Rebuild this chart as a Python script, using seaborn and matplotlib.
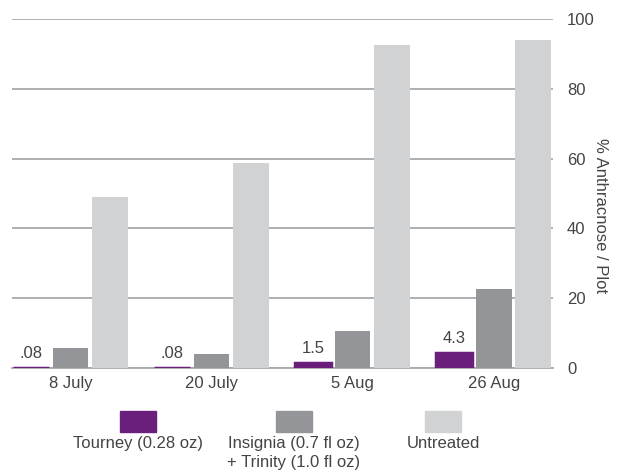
import matplotlib
matplotlib.use("Agg")
import matplotlib.pyplot as plt
from matplotlib.patches import Rectangle
import seaborn as sns
import pandas as pd

# data
dates = ["8 July", "20 July", "5 Aug", "26 Aug"]
tourney = [0.08, 0.08, 1.5, 4.3]
insignia = [5.7, 4.1, 10.7, 22.6]
untreated = [49.0, 58.7, 92.5, 94.0]
value_labels = [".08", ".08", "1.5", "4.3"]

treatments = ["Tourney (0.28 oz)", "Insignia (0.7 fl oz)\n+ Trinity (1.0 fl oz)", "Untreated"]
colors = ["#6b1f7c", "#939598", "#d1d2d4"]

df = pd.DataFrame({
    "date": dates * 3,
    "treatment": [treatments[0]] * 4 + [treatments[1]] * 4 + [treatments[2]] * 4,
    "value": tourney + insignia + untreated,
})

sns.set_style("white")
plt.rcParams["font.family"] = ["Liberation Sans", "DejaVu Sans"]
txt = "#444444"

fig = plt.figure(figsize=(6.18, 4.76), dpi=100)
ax = fig.add_axes([12 / 618, 1 - 368 / 476, (553 - 12) / 618, (368 - 19) / 476])

sns.barplot(data=df, x="date", y="value", hue="treatment", order=dates,
            hue_order=treatments, palette=colors, width=0.84, gap=0.1,
            saturation=1, legend=False, ax=ax, zorder=3, linewidth=0)

# give the tiny bars a visible sliver like the original
for bar in ax.containers[0]:
    bar.set_edgecolor(colors[0])
    bar.set_linewidth(2.5)

ax.bar_label(ax.containers[0], labels=value_labels, padding=5,
             fontsize=12, color=txt)

ax.set_xlim(-0.415, 3.42)
ax.set_ylim(0, 100)
ax.set_yticks([0, 20, 40, 60, 80, 100])
ax.yaxis.tick_right()
ax.grid(axis="y", color="#a7a9ac", linewidth=1.3, zorder=0)
ax.set_axisbelow(True)
for s in ["top", "left", "right"]:
    ax.spines[s].set_visible(False)
ax.spines["bottom"].set_color("#a7a9ac")
ax.spines["bottom"].set_linewidth(1.3)
ax.tick_params(axis="both", length=0, labelsize=12, colors=txt)
ax.tick_params(axis="y", pad=10)
ax.tick_params(axis="x", pad=6)
ax.set_xlabel("")
ax.set_ylabel("")
fig.text(600 / 618, 1 - 216 / 476, "% Anthracnose / Plot", rotation=270,
         ha="center", va="center", fontsize=12, color=txt)

# legend: swatch above, text below
centers = [138, 294, 443]
for c, col, lab in zip(centers, colors, treatments):
    fig.add_artist(Rectangle(((c - 18) / 618, 1 - 432 / 476), 36 / 618, 21 / 476,
                             transform=fig.transFigure, color=col))
    fig.text(c / 618, 1 - 436 / 476, lab, ha="center", va="top",
             fontsize=12, color=txt, linespacing=1.3)

fig.savefig("out.png", dpi=100)
